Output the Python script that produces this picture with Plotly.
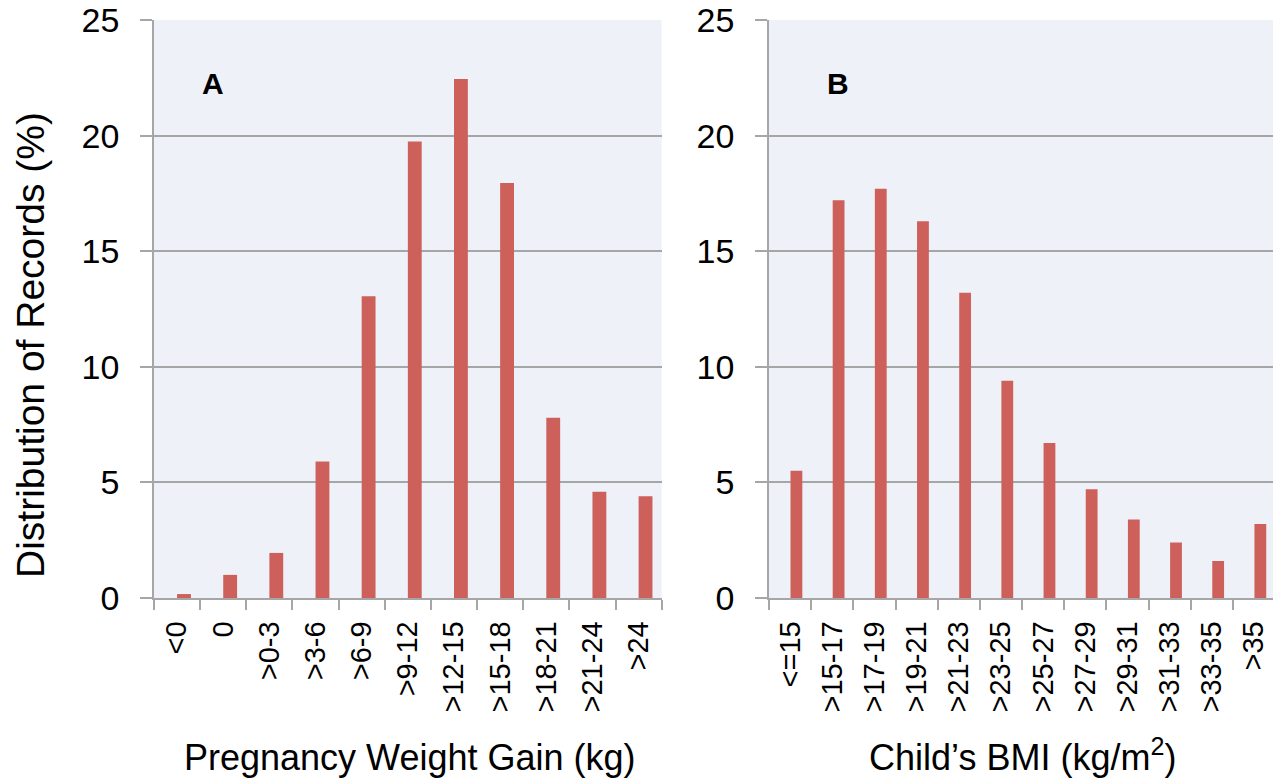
import plotly.graph_objects as go
from plotly.subplots import make_subplots

gain_cats = ["<0", "0", ">0-3", ">3-6", ">6-9", ">9-12", ">12-15", ">15-18", ">18-21", ">21-24", ">24"]
gain_pct = [0.17, 1.0, 1.95, 5.9, 13.05, 19.75, 22.45, 17.95, 7.8, 4.6, 4.4]

bmi_cats = ["<=15", ">15-17", ">17-19", ">19-21", ">21-23", ">23-25", ">25-27", ">27-29", ">29-31", ">31-33", ">33-35", ">35"]
bmi_pct = [5.5, 17.2, 17.7, 16.3, 13.2, 9.4, 6.7, 4.7, 3.4, 2.4, 1.6, 3.2]

y_ticks = [0, 5, 10, 15, 20, 25]

BAR = "#CD605A"
BG = "#EEF2F8"
GRID = "#A6A6A6"
FONT = "Liberation Sans, Arial, sans-serif"

WA, WB = 0.30, 0.28
SHIFT = 0.15

fig = make_subplots(rows=1, cols=2, horizontal_spacing=0.0)

fig.add_trace(go.Bar(x=gain_cats, y=gain_pct, marker=dict(color=BAR, line=dict(width=0)),
                     width=WA, offset=-WA / 2 + SHIFT, showlegend=False), row=1, col=1)
fig.add_trace(go.Bar(x=bmi_cats, y=bmi_pct, marker=dict(color=BAR, line=dict(width=0)),
                     width=WB, offset=-WB / 2 + SHIFT, showlegend=False), row=1, col=2)

xcommon = dict(type="category", tickson="boundaries", ticks="outside", ticklen=10,
               tickcolor=GRID, tickwidth=1.5, showline=True, linecolor=GRID, linewidth=1.5,
               showgrid=False, tickangle=-90, tickfont=dict(family=FONT, size=29, color="#000"),
               ticklabelstandoff=10)
ycommon = dict(range=[0, 25], tickvals=y_ticks, ticks="outside", ticklen=12, tickcolor=GRID,
               tickwidth=1.5, showline=True, linecolor=GRID, linewidth=1.5, showgrid=True,
               gridcolor=GRID, gridwidth=1.5, zeroline=False,
               tickfont=dict(family=FONT, size=34, color="#000"), ticklabelstandoff=14)

fig.update_xaxes(**xcommon)
fig.update_yaxes(**ycommon)
fig.update_layout(
    xaxis=dict(domain=[0, 0.4537], range=[-0.5, 10.5]),
    xaxis2=dict(domain=[0.5496, 1.0], range=[-0.5, 11.45]),
)

fig.update_layout(
    width=1273, height=780,
    margin=dict(l=154, r=0, t=20, b=182),
    plot_bgcolor=BG, paper_bgcolor="white",
    font=dict(family=FONT, color="#000"),
    annotations=[
        dict(text="<b>A</b>", x=0.0527, y=0.891, xref="paper", yref="paper",
             xanchor="center", yanchor="middle",
             showarrow=False, font=dict(size=30, family=FONT)),
        dict(text="<b>B</b>", x=0.611, y=0.891, xref="paper", yref="paper",
             xanchor="center", yanchor="middle",
             showarrow=False, font=dict(size=30, family=FONT)),
        dict(text="Pregnancy Weight Gain (kg)", x=0.2288, y=-0.276, xref="paper", yref="paper",
             xanchor="center", yanchor="middle",
             showarrow=False, font=dict(size=36, family=FONT)),
        dict(text="Child\u2019s BMI (kg/m<sup>2</sup>)", x=0.7757, y=-0.271, xref="paper", yref="paper",
             xanchor="center", yanchor="middle",
             showarrow=False, font=dict(size=36, family=FONT)),
        dict(text="Distribution of Records (%)", x=-0.1108, y=0.4377, xref="paper", yref="paper",
             xanchor="center", yanchor="middle",
             showarrow=False, textangle=-90, font=dict(size=39, family=FONT)),
    ],
)

fig.write_html("out.html")
